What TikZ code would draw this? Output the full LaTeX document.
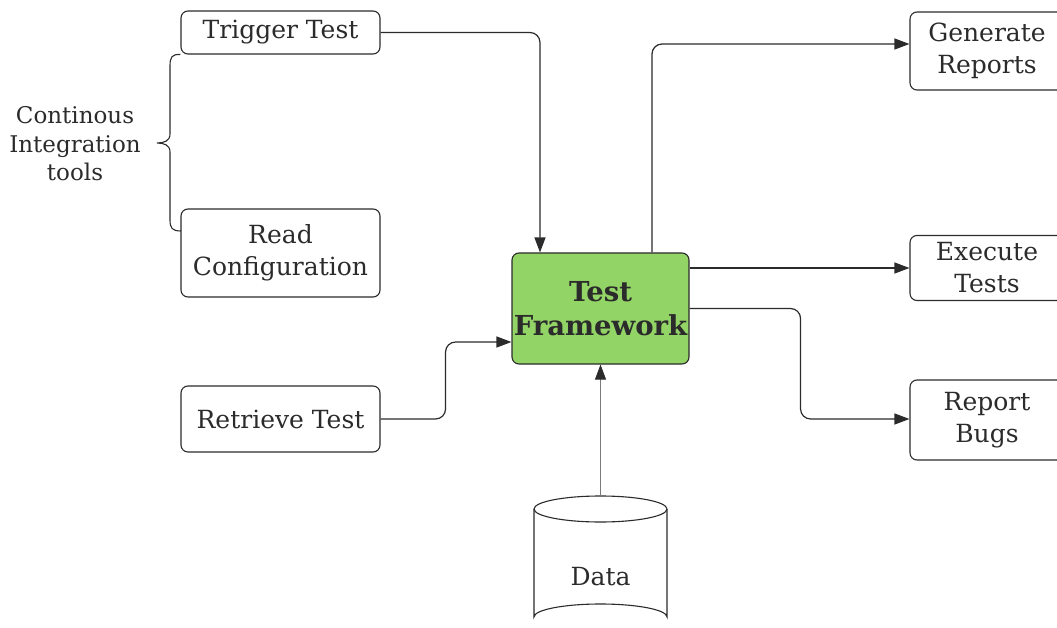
\documentclass[tikz,border=0pt]{standalone}
\usepackage{fontspec}
\setmainfont{DejaVu Serif}
\usetikzlibrary{arrows.meta}
\definecolor{ink}{HTML}{2B2B2B}
\definecolor{faint}{HTML}{7A7A7A}
\definecolor{frameGreen}{HTML}{93D467}
\begin{document}
\begin{tikzpicture}[x=1pt,y=-1pt,
  box/.style={draw=ink, line width=1.1pt, rounded corners=7pt, fill=white,
    text=ink, align=center, inner sep=0pt,
    font=\fontsize{25}{32}\selectfont},
  link/.style={draw=ink, line width=1.2pt, rounded corners=10pt,
    -{Triangle[length=15pt,width=11pt]}},
  datalink/.style={draw=faint, line width=0.8pt,
    -{Triangle[length=15pt,width=11pt,fill=ink,color=ink]}},
  lbl/.style={text=ink, align=center, font=\fontsize{23}{28.5}\selectfont}]
\useasboundingbox (0,0) rectangle (1057,628);
\clip (0,0) rectangle (1057,628);

% left column
\node[box, minimum width=199pt, minimum height=43pt] (trig) at (280.5,32.5) {Trigger Test};
\node[box, minimum width=199pt, minimum height=88pt] (read) at (280.5,253) {Read\\Configuration};
\node[box, minimum width=199pt, minimum height=66pt] (retr) at (280.5,419) {Retrieve Test};

% central framework
\node[box, fill=frameGreen, minimum width=177pt, minimum height=111pt,
  font=\fontsize{27.5}{34}\selectfont\bfseries] (tf) at (600.5,308.5) {Test\\Framework};

% right column
\node[box, minimum width=154pt, minimum height=78pt] (gen) at (987,51) {Generate\\Reports};
\node[box, minimum width=154pt, minimum height=65pt] (exe) at (987,268) {Execute\\Tests};
\node[box, minimum width=154pt, minimum height=80pt] (bug) at (987,420) {Report\\Bugs};

% data store
\draw[ink, line width=1.1pt, fill=white]
  (534,509) -- (534,617) arc[start angle=180, end angle=360, x radius=66.5, y radius=13]
  -- (667,509);
\draw[ink, line width=1.1pt] (600.5,509) ellipse[x radius=66.5, y radius=13];
\node[lbl, font=\fontsize{25}{32}\selectfont] (data) at (600.5,577) {Data};
\coordinate (dtop) at (600.5,496);

% brace and its label
\node[lbl] (ci) at (75,144) {Continous\\Integration\\tools};
\draw[ink, line width=1.1pt]
  (trig.south west) .. controls (172,54) and (170,57) .. (170,66) -- (170,134)
  .. controls (170,141) and (164,143) .. (157,143)
  .. controls (164,143) and (170,145) .. (170,152) -- (170,220)
  .. controls (170,228) and (172,231) .. (181,231);

% connectors
\draw[link] (trig.east) -| ([xshift=-60.5pt]tf.north);
\draw[link] ([xshift=51.5pt]tf.north) |- ([yshift=7pt]gen.west);
\draw[link] (tf.east |- exe.west) -- (exe.west);
\draw[link] (tf.east) -- ++(111,0) |- ([yshift=1pt]bug.west);
\draw[link] (retr.east) -- ++(65,0) |- ([yshift=-33.5pt]tf.west);
\draw[datalink] (dtop) -- (tf.south);
\end{tikzpicture}
\end{document}
